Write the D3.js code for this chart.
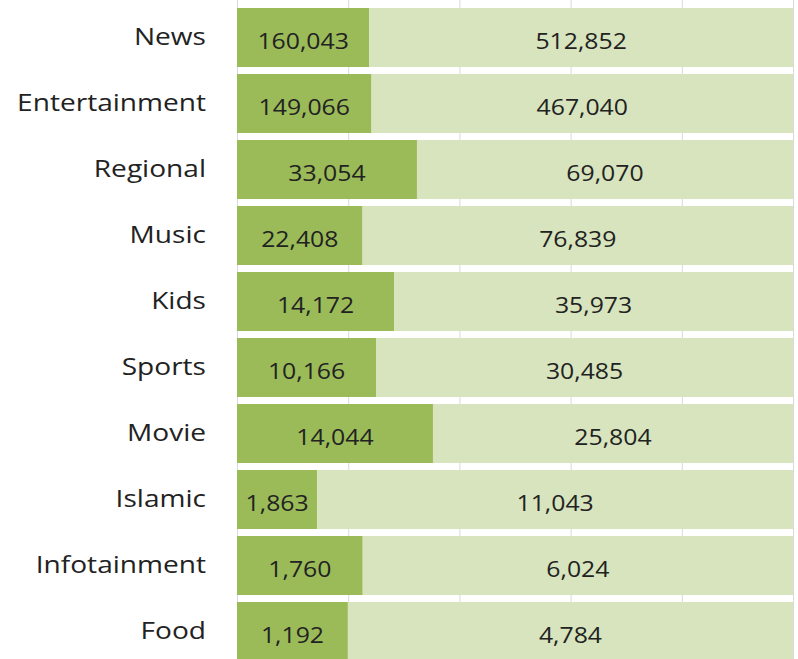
<!DOCTYPE html>
<html>
<head>
<meta charset="utf-8">
<script src="https://cdn.jsdelivr.net/npm/d3@7"></script>
<style>
  html, body { margin: 0; padding: 0; background: #fff; }
  svg { display: block; }
</style>
</head>
<body>
<svg id="chart" width="798" height="659"></svg>
<script>
const categories = ["News", "Entertainment", "Regional", "Music", "Kids", "Sports", "Movie", "Islamic", "Infotainment", "Food"];
const seriesA = [160043, 149066, 33054, 22408, 14172, 10166, 14044, 1863, 1760, 1192];
const seriesB = [512852, 467040, 69070, 76839, 35973, 30485, 25804, 11043, 6024, 4784];
const percentTicks = [0, 0.2, 0.4, 0.6, 0.8, 1];

const svg = d3.select("#chart");
const plotLeft = 237, plotW = 556, plotTop = 8, step = 66, gap = 7;

const x = d3.scaleLinear().domain([0, 1]).range([plotLeft, plotLeft + plotW]);
const y = d3.scaleBand().domain(categories)
  .range([plotTop, plotTop + step * categories.length - gap])
  .paddingInner(gap / step).paddingOuter(0);

// gridlines
svg.append("g")
  .selectAll("line")
  .data(percentTicks)
  .join("line")
  .attr("x1", d => x(d) + 0.5).attr("x2", d => x(d) + 0.5)
  .attr("y1", 0).attr("y2", 659)
  .attr("stroke", "#d9d9d9")
  .attr("stroke-width", 1);

const rows = categories.map((c, i) => {
  const total = seriesA[i] + seriesB[i];
  return { c, a: seriesA[i], b: seriesB[i], pa: seriesA[i] / total };
});

const g = svg.append("g");
g.selectAll("rect.a")
  .data(rows).join("rect")
  .attr("class", "a")
  .attr("x", x(0))
  .attr("y", d => y(d.c))
  .attr("width", d => x(d.pa) - x(0))
  .attr("height", y.bandwidth())
  .attr("fill", "#9bbb59");

g.selectAll("rect.b")
  .data(rows).join("rect")
  .attr("class", "b")
  .attr("x", d => x(d.pa))
  .attr("y", d => y(d.c))
  .attr("width", d => x(1) - x(d.pa))
  .attr("height", y.bandwidth())
  .attr("fill", "#d7e4bd");

const fmt = d3.format(",");
const font = "'Open Sans', 'Liberation Sans', sans-serif";
const sxData = 1.18, sxCat = 1.17;

function dataLabels(cls, cx, val) {
  g.selectAll("text." + cls)
    .data(rows).join("text")
    .attr("class", cls)
    .attr("transform", d => `translate(${cx(d)},${y(d.c) + y.bandwidth() / 2 + 3}) scale(${sxData},1)`)
    .attr("text-anchor", "middle")
    .attr("dominant-baseline", "central")
    .attr("font-family", font)
    .attr("font-size", 21)
    .attr("fill", "#222")
    .text(d => fmt(val(d)));
}
dataLabels("la", d => (x(0) + x(d.pa)) / 2, d => d.a);
dataLabels("lb", d => (x(d.pa) + x(1)) / 2, d => d.b);

// category axis
const yAxis = d3.axisLeft(y).tickSize(0).tickPadding(0);
const ax = svg.append("g").attr("transform", `translate(${x(0)},0)`).call(yAxis);
ax.select(".domain").remove();
ax.selectAll(".tick").attr("transform", d => `translate(0,${y(d) + y.bandwidth() / 2})`);
ax.selectAll("text")
  .attr("x", 0).attr("y", 0)
  .attr("transform", `translate(-31,-1) scale(${sxCat},1)`)
  .attr("font-family", font)
  .attr("font-size", 24)
  .attr("fill", "#222")
  .attr("dy", "0.36em");
</script>
</body>
</html>
